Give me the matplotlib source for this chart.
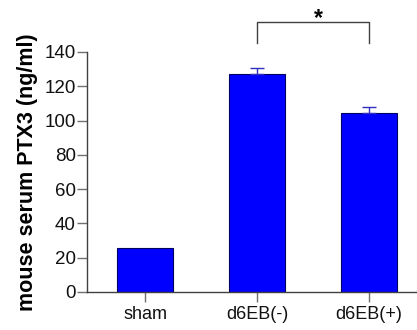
import matplotlib
matplotlib.use("Agg")
import matplotlib.pyplot as plt

groups = ["sham", "d6EB(-)", "d6EB(+)"]
means = [25.5, 127.2, 104.6]
errs = [0.0, 3.5, 3.2]
yticks = [0, 20, 40, 60, 80, 100, 120, 140]

plt.rcParams["font.family"] = ["Liberation Sans", "DejaVu Sans"]
fig = plt.figure(figsize=(4.17, 3.30), dpi=100)
ax = fig.add_axes([0.2086, 0.1152, 0.7914, 0.7273])

x = list(range(len(groups)))
ax.bar(x, means, width=0.5, color="#0000ff", edgecolor="#000060", linewidth=0.8, zorder=2)
ax.errorbar(x[1:], means[1:], yerr=[[0, 0], errs[1:]], fmt="none", ecolor="#3030c0",
            elinewidth=1.0, capsize=5, capthick=1.0, zorder=3)

ax.set_xlim(-0.52, 2.43)
ax.set_ylim(0, 140)
ax.set_yticks(yticks)
ax.set_xticks(x)
ax.set_xticklabels(groups)
for s in ("top", "right"):
    ax.spines[s].set_visible(False)
for s in ("left", "bottom"):
    ax.spines[s].set_color("#404040")
    ax.spines[s].set_linewidth(1.0)
ax.tick_params(axis="y", direction="out", length=7, width=1.0, color="#707070",
               labelsize=13.5, labelcolor="#111111", pad=1)
ax.tick_params(axis="x", direction="out", length=7, width=1.0, color="#707070",
               labelsize=13, labelcolor="#111111", pad=3)
ax.set_ylabel("mouse serum PTX3 (ng/ml)", fontsize=15.5, fontweight="bold", labelpad=5)

# significance bracket
by, bb = 157.7, 145.0
ax.plot([1, 1, 2, 2], [bb, by, by, bb], color="#404040", lw=1.0, clip_on=False)
ax.text(1.55, by - 2.0, "*", ha="center", va="baseline", fontsize=16.5, fontweight="bold",
        clip_on=False)

fig.savefig("out.png", dpi=100)
